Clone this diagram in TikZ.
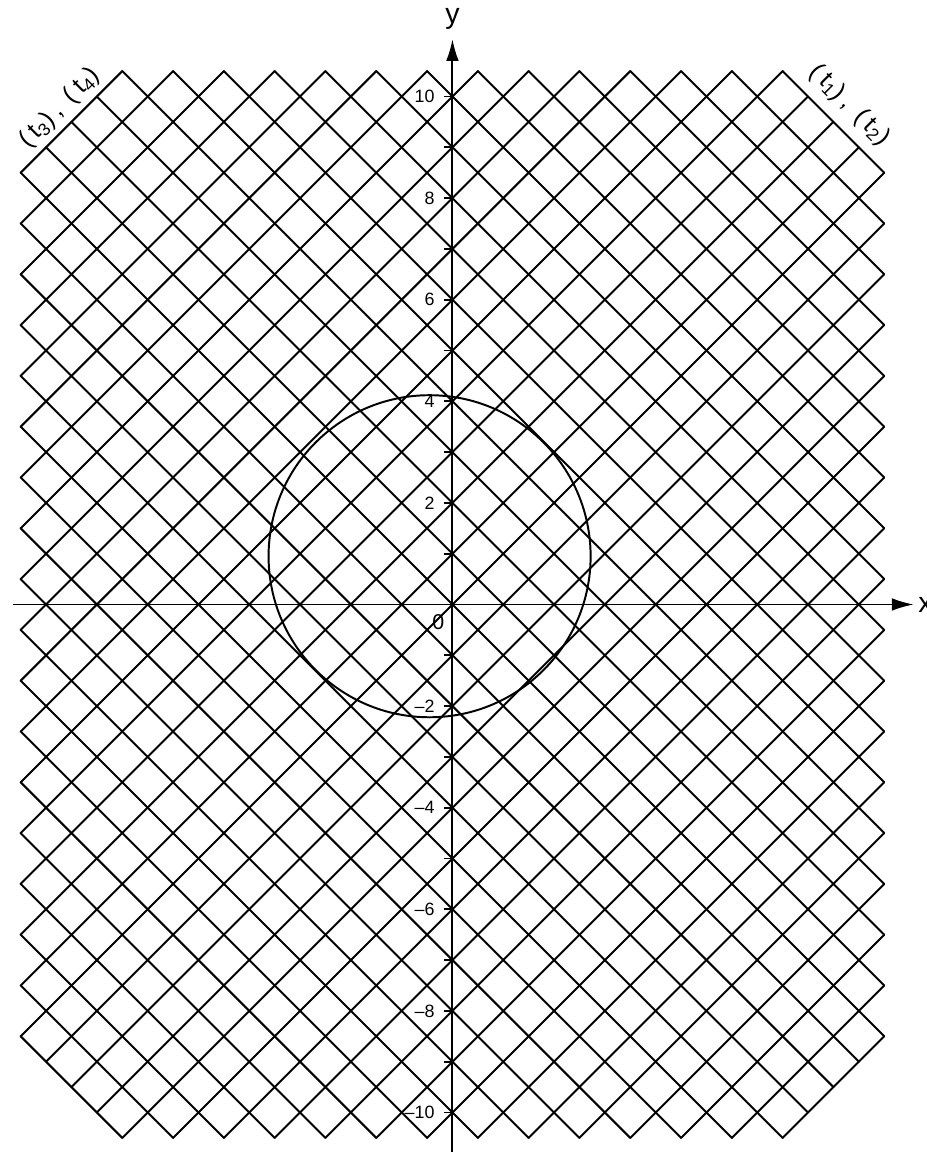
\documentclass[tikz,border=0pt]{standalone}
\usepackage{fontspec}
\setmainfont{Liberation Sans}
\newfontfamily\letterfont[LetterSpace=20]{Liberation Sans}
\usetikzlibrary{arrows.meta}

\begin{document}
\begin{tikzpicture}[>={Latex[length=0.43cm,width=0.25cm]}, line width=1.1pt]
		\def\Xmax{8.5}
		\def\Ymax{10.5}
		\def\Cmax{17}
		\def\R{3.17}

		\useasboundingbox (-8.907,-10.778) rectangle (9.341,11.900);

		\foreach \c in {-\Cmax,...,\Cmax} {
			\pgfmathsetmacro{\xa}{max(\c-\Ymax,(\c-\Cmax)/2,-\Xmax)}
			\pgfmathsetmacro{\ya}{\c-(\xa)}
			\pgfmathsetmacro{\xb}{min(\c+\Ymax,(\c+\Cmax)/2,\Xmax)}
			\pgfmathsetmacro{\yb}{\c-(\xb)}
			\draw[line cap=round] (\xa,\ya) -- (\xb,\yb);
			\draw[line cap=round] (-\xa,\ya) -- (-\xb,\yb);
		}

		\coordinate (x-start) at (-8.65,0);
		\coordinate (x-end) at (9.08,0);
		\coordinate (y-start) at (0,-10.85);
		\coordinate (y-end) at (0,11.13);
		\coordinate (circle-center) at (-0.45,0.95);

		\draw[->] (x-start) -- (x-end);
		\draw[->] (y-start) -- (y-end);
		\draw (circle-center) circle (\R);

		\foreach \y in {-10,...,-1,1,2,...,10}
			\draw (-0.17,\y) -- (0.03,\y);
		\foreach \y in {2,4,...,10} {
			\node[anchor=east, inner sep=1pt] (tick-\y) at (-0.3,\y) {\y};
			\node[anchor=east, inner sep=1pt] (tick-m\y) at (-0.3,-\y) {\textendash\y};
		}
		\node (origin-label) at (-0.28,-0.35) {\large 0};

		\node[anchor=west, inner sep=0pt] (x-label) at (9.15,0)
			{\fontsize{16}{18}\selectfont x};
		\node (y-label) at (0,11.53) {\fontsize{16}{18}\selectfont y};

		\node[rotate=-45] (t-right) at (7.82,9.83)
			{\fontsize{14}{16}\letterfont (t\textsubscript{1}), (t\textsubscript{2})};
		\node[rotate=45] (t-left) at (-7.73,9.77)
			{\fontsize{14}{16}\letterfont (t\textsubscript{3}), (t\textsubscript{4})};
	\end{tikzpicture}
\end{document}
